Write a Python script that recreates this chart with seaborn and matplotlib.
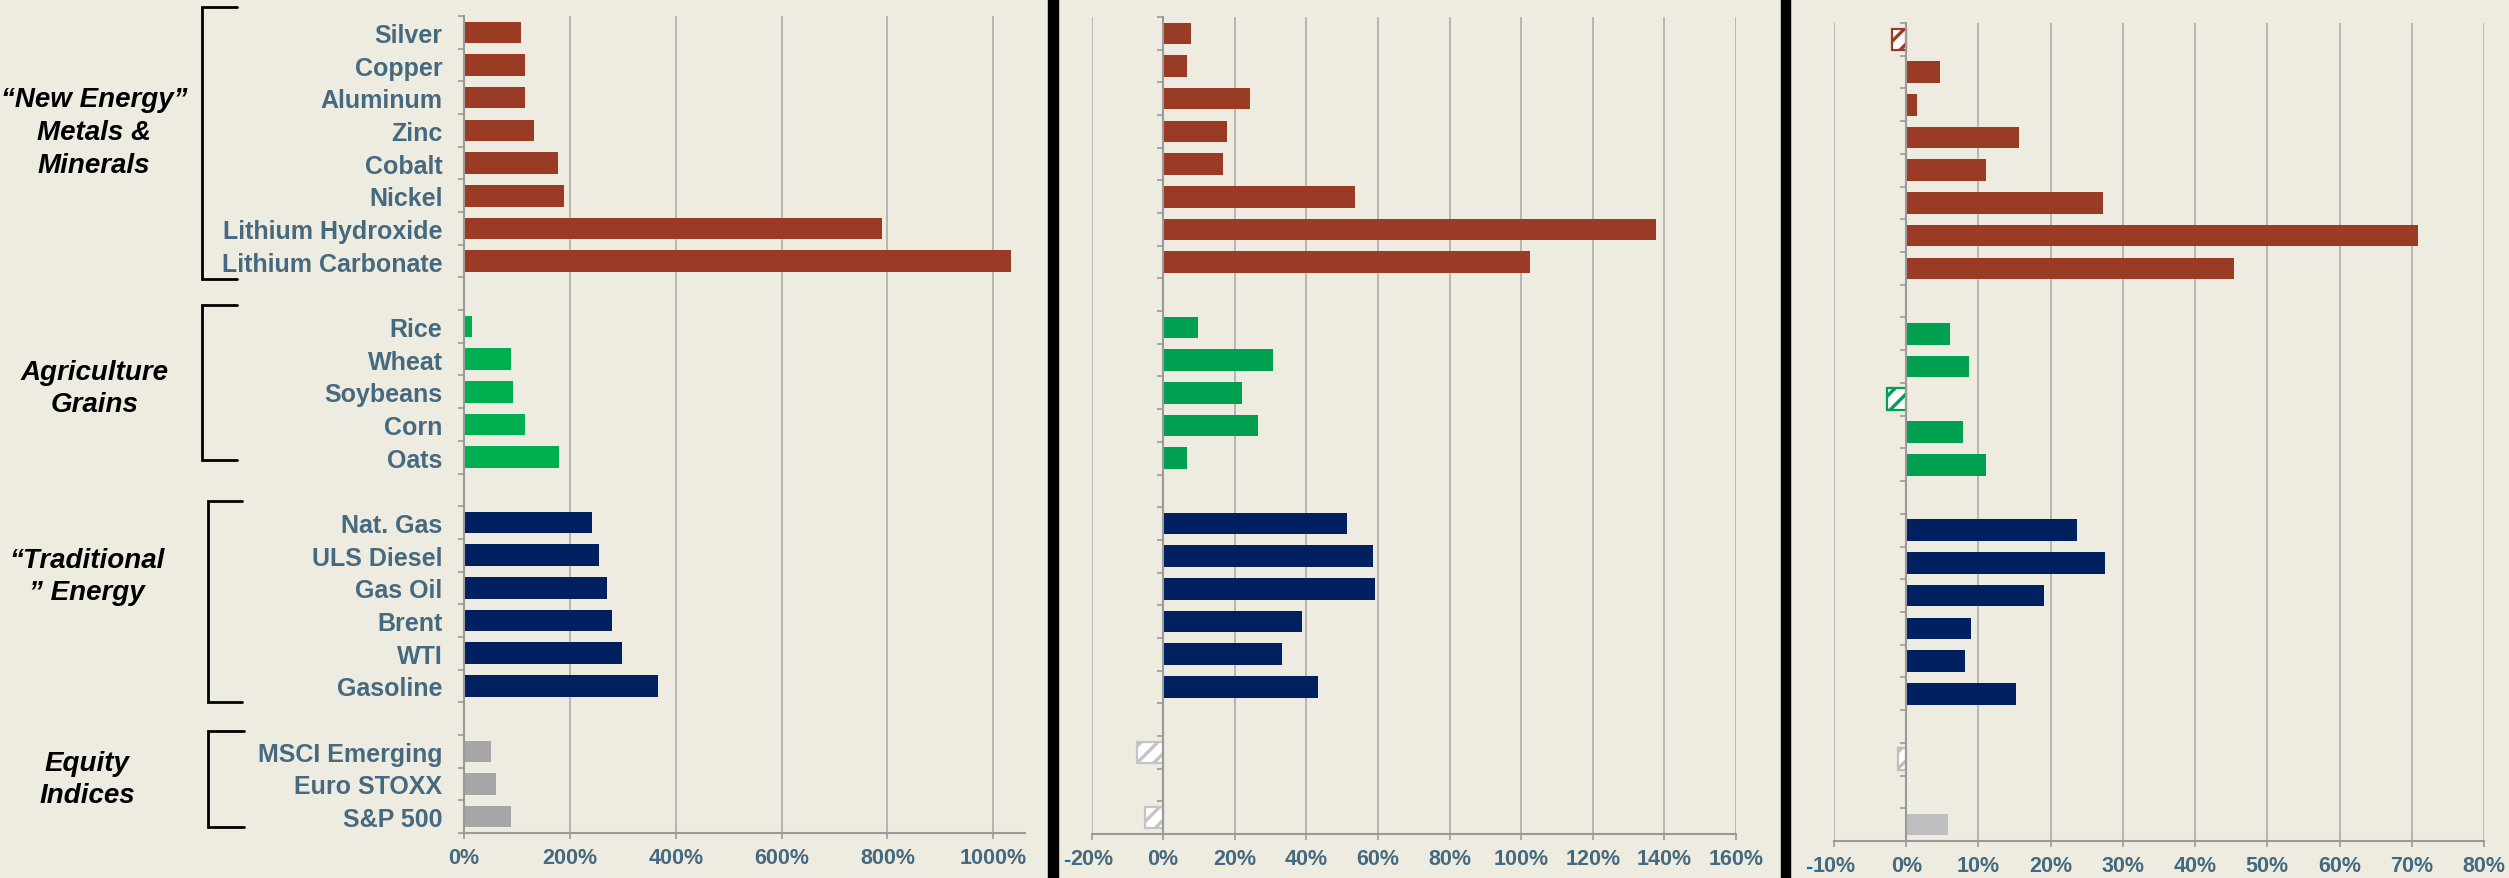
import numpy as np
import pandas as pd
import matplotlib
matplotlib.use("Agg")
import matplotlib.pyplot as plt
from matplotlib.lines import Line2D
from matplotlib.patches import Rectangle
import seaborn as sns

# ---- categories -------------------------------------------------------------
metals = ["Silver", "Copper", "Aluminum", "Zinc", "Cobalt", "Nickel",
          "Lithium Hydroxide", "Lithium Carbonate"]
grains = ["Rice", "Wheat", "Soybeans", "Corn", "Oats"]
energy = ["Nat. Gas", "ULS Diesel", "Gas Oil", "Brent", "WTI", "Gasoline"]
equities = ["MSCI Emerging", "Euro STOXX", "S&P 500"]

group_keys = ["metals", "grains", "energy", "equity"]
group_titles = ["\u201cNew Energy\u201d\nMetals &\nMinerals",
                "Agriculture\nGrains",
                "\u201cTraditional\n\u201d Energy",
                "Equity\nIndices"]

# ---- price change (%) per panel ----------------------------------------------
p1_metals = [108, 116, 116, 132, 177, 189, 789, 1033]
p1_grains = [16, 89, 92, 116, 180]
p1_energy = [242, 256, 270, 280, 299, 367]
p1_equity = [51, 61, 89]

p2_metals = [7.7, 6.6, 24.2, 17.9, 16.7, 53.7, 137.7, 102.6]
p2_grains = [9.7, 30.6, 21.9, 26.4, 6.6]
p2_energy = [51.3, 58.5, 59.1, 38.9, 33.3, 43.2]
p2_equity = [-7.4, 0.0, -5.0]

p3_metals = [-2.0, 4.7, 1.5, 15.6, 11.0, 27.3, 70.9, 45.4]
p3_grains = [6.0, 8.7, -2.6, 7.8, 11.0]
p3_energy = [23.6, 27.5, 19.1, 9.0, 8.1, 15.2]
p3_equity = [-1.1, 0.0, 5.8]

# axis ticks per panel
p1_ticks = list(range(0, 1001, 200))
p2_ticks = list(range(-20, 161, 20))
p3_ticks = list(range(-10, 81, 10))

# ---- style -------------------------------------------------------------------
W, H = 2509, 879
BG = "#EEEBE0"
LABEL = "#456A80"
GRID = "#A6A6A6"
BROWN = "#9A3B26"
NAVY = "#002060"
TICK_FS = 15.5

sns.set_theme(style="white")
plt.rcParams["font.family"] = ["Liberation Sans", "DejaVu Sans"]
plt.rcParams["hatch.linewidth"] = 2.4

# row order with a blank spacer between groups
rows = metals + [""] + grains + [" "] + energy + ["  "] + equities


def frame(m, g, e, q):
    items = metals + grains + energy + equities
    groups = (["metals"] * len(metals) + ["grains"] * len(grains)
              + ["energy"] * len(energy) + ["equity"] * len(equities))
    return pd.DataFrame({"item": items, "group": groups, "value": m + g + e + q})


def fx(x):
    return x / W


def fy(y):
    return 1 - y / H


fig = plt.figure(figsize=(W / 100, H / 100), dpi=100, facecolor=BG)


def panel(box, df, palette, ticks, xlim, show_labels, minus_offset=None):
    left, right, top, bottom = box
    ax = fig.add_axes([fx(left), fy(bottom), fx(right - left), (bottom - top) / H])
    ax.set_facecolor(BG)
    sns.barplot(data=df, x="value", y="item", hue="group", hue_order=group_keys,
                palette=palette, order=rows, orient="h", dodge=False,
                width=0.66, saturation=1, errorbar=None, legend=False,
                linewidth=0, ax=ax)
    # negative bars: white with diagonal stripes in the series colour
    for p in ax.patches:
        if p.get_width() < 0:
            c = p.get_facecolor()
            p.set_facecolor("white")
            p.set_edgecolor(c)
            p.set_linewidth(1.6)
            p.set_hatch("//")
            if hasattr(p, "set_hatchcolor"):
                p.set_hatchcolor(c)
    ax.set_xlim(*xlim)
    ax.set_ylim(len(rows) - 0.5, -0.5)
    ax.set_xlabel("")
    ax.set_ylabel("")
    ax.grid(axis="x", color=GRID, lw=1.1)
    ax.grid(axis="y", visible=False)
    ax.set_axisbelow(True)
    for s in ("top", "right"):
        ax.spines[s].set_visible(False)
    ax.spines["left"].set_position(("data", 0))
    ax.spines["left"].set_color("#9A9A9A")
    ax.spines["left"].set_linewidth(1.5)
    ax.spines["bottom"].set_color("#9A9A9A")
    ax.spines["bottom"].set_linewidth(1.5)
    ax.set_yticks(np.arange(-0.5, len(rows), 1), minor=True)
    ax.tick_params(axis="y", which="major", length=0, pad=15.5,
                   labelleft=show_labels, labelsize=18, labelcolor=LABEL)
    ax.tick_params(axis="y", which="minor", length=4.5, width=1.2,
                   color="#9A9A9A", direction="out", left=True)
    for t in ax.get_yticklabels():
        t.set_fontweight("bold")
    ax.set_xticks(ticks)
    ax.set_xticklabels([f"{abs(v)}%" for v in ticks])
    ax.tick_params(axis="x", which="major", length=4.5, width=1.2,
                   color="#9A9A9A", direction="out", bottom=True, pad=5.5,
                   labelsize=TICK_FS, labelcolor=LABEL)
    for t in ax.get_xticklabels():
        t.set_fontweight("bold")
    if minus_offset is not None:
        for v in ticks:
            if v < 0:
                ax.annotate("-", xy=(v, 0), xycoords=("data", "axes fraction"),
                            xytext=(minus_offset, -18.5), textcoords="offset points",
                            ha="center", va="center", fontsize=TICK_FS,
                            fontweight="bold", color="#0070C0")
    return ax


pal1 = {"metals": BROWN, "grains": "#00B050", "energy": NAVY, "equity": "#A6A6A6"}
pal2 = {"metals": BROWN, "grains": "#00A050", "energy": NAVY, "equity": "#C4C4C4"}
pal3 = {"metals": BROWN, "grains": "#00A050", "energy": NAVY, "equity": "#BFBFBF"}

panel((464, 1025, 17, 834), frame(p1_metals, p1_grains, p1_energy, p1_equity),
      pal1, p1_ticks, (0, 1060), True)
panel((1091.5, 1736, 18, 835), frame(p2_metals, p2_grains, p2_energy, p2_equity),
      pal2, p2_ticks, (-20, 160), False, minus_offset=-18)
panel((1834, 2484, 24, 842), frame(p3_metals, p3_grains, p3_energy, p3_equity),
      pal3, p3_ticks, (-10, 80), False, minus_offset=-18.5)

# black separators between the panels
for x0, w in ((1048, 10), (1781, 9.5)):
    fig.add_artist(Rectangle((fx(x0), 0), fx(w), 1, transform=fig.transFigure,
                             color="black", zorder=5))

# group brackets and titles
brackets = [(202, 237, 8, 280), (202, 237, 306, 461),
            (207.5, 242, 502, 703), (207.5, 244, 732, 828)]
title_pos = [(94, 133), (95, 389), (87, 577), (87, 780)]
for (xv, xt, y0, y1), (tx, ty), title in zip(brackets, title_pos, group_titles):
    fig.add_artist(Line2D([fx(xt), fx(xv), fx(xv), fx(xt)],
                          [fy(y0), fy(y0), fy(y1), fy(y1)],
                          transform=fig.transFigure, color="black", lw=2.0,
                          solid_joinstyle="miter"))
    fig.text(fx(tx), fy(ty), title, ha="center", va="center",
             multialignment="center", fontsize=20, fontweight="bold",
             fontstyle="italic", color="black", linespacing=1.33)

fig.savefig("out.png", dpi=100, facecolor=BG)
